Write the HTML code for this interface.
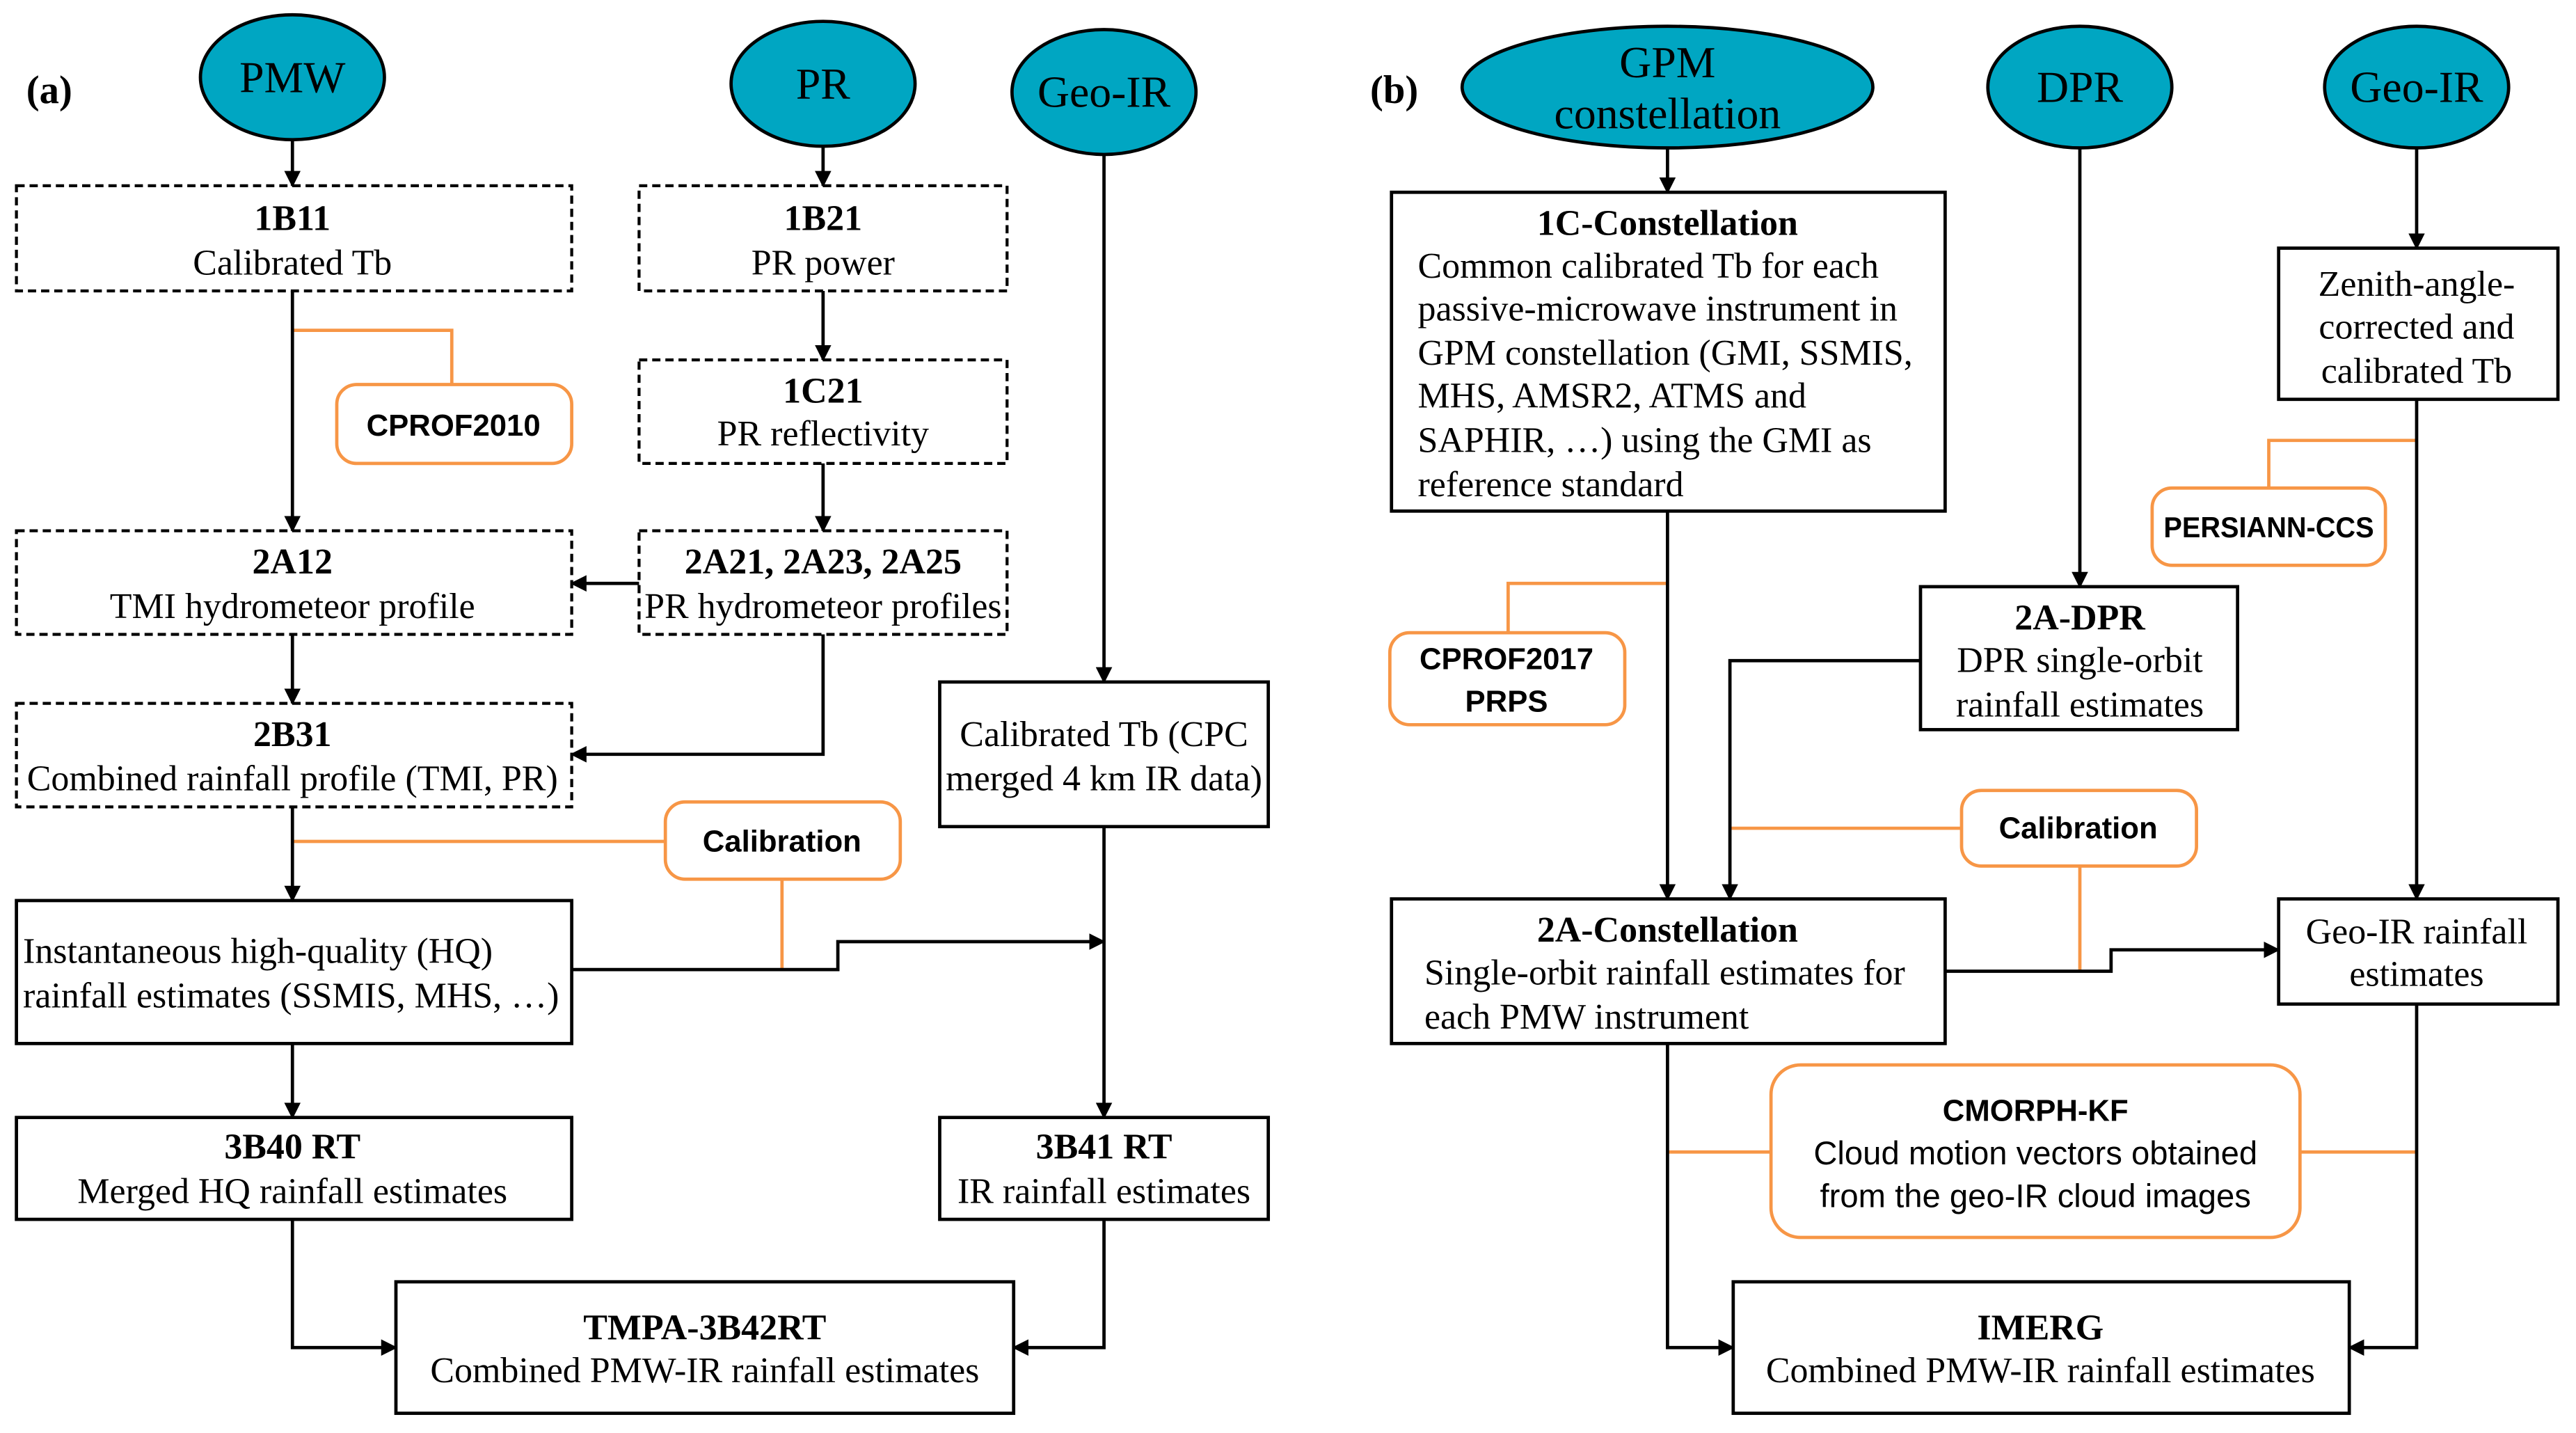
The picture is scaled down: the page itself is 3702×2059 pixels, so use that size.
<!DOCTYPE html>
<html><head><meta charset="utf-8"><style>html,body{margin:0;padding:0;background:#fff}svg{display:block}</style></head><body>
<svg width="3702" height="2059" viewBox="0 0 1568 872" preserveAspectRatio="none" xmlns="http://www.w3.org/2000/svg">
<defs><marker id="a" markerWidth="10" markerHeight="10" refX="9" refY="5" orient="auto" markerUnits="userSpaceOnUse"><path d="M0,0 L10,5 L0,10 z" fill="#000"/></marker></defs>
<rect width="1568" height="872" fill="#fff"/>
<g font-family="Liberation Serif, serif" font-size="22" fill="#000" dominant-baseline="central">
<text x="16" y="55" font-weight="bold" font-size="24">(a)</text>
<text x="834" y="55" font-weight="bold" font-size="24">(b)</text>
<g fill="#00A6C2" stroke="#000" stroke-width="2">
<ellipse cx="178" cy="47" rx="56" ry="38"/><ellipse cx="501" cy="51" rx="56" ry="38"/><ellipse cx="672" cy="56" rx="56" ry="38"/>
<ellipse cx="1015" cy="53" rx="125" ry="37"/><ellipse cx="1266" cy="53" rx="56" ry="37"/><ellipse cx="1471" cy="53" rx="56" ry="37"/>
</g>
<g text-anchor="middle" font-size="27">
<text x="178" y="47">PMW</text><text x="501" y="51">PR</text><text x="672" y="56">Geo-IR</text>
<text x="1015" y="38">GPM</text><text x="1015" y="69">constellation</text><text x="1266" y="53">DPR</text><text x="1471" y="53">Geo-IR</text>
</g>
<g fill="none" stroke="#000" stroke-width="1.8" stroke-dasharray="5,3">
<rect x="10" y="113" width="338" height="64"/><rect x="389" y="113" width="224" height="64"/>
<rect x="389" y="219" width="224" height="63"/><rect x="10" y="323" width="338" height="63"/>
<rect x="389" y="323" width="224" height="63"/><rect x="10" y="428" width="338" height="63"/>
</g>
<g fill="none" stroke="#000" stroke-width="2">
<rect x="572" y="415" width="200" height="88"/><rect x="10" y="548" width="338" height="87"/>
<rect x="10" y="680" width="338" height="62"/><rect x="572" y="680" width="200" height="62"/>
<rect x="241" y="780" width="376" height="80"/>
<rect x="847" y="117" width="337" height="194"/><rect x="1387" y="151" width="170" height="92"/>
<rect x="1169" y="357" width="193" height="87"/><rect x="847" y="547" width="337" height="88"/>
<rect x="1387" y="547" width="170" height="64"/><rect x="1055" y="780" width="375" height="80"/>
</g>
<g fill="#fff" stroke="#F79646" stroke-width="2">
<rect x="205" y="234" width="143" height="48" rx="12"/><rect x="405" y="488" width="143" height="47" rx="12"/>
<rect x="1310" y="297" width="142" height="47" rx="12"/><rect x="846" y="385" width="143" height="56" rx="12"/>
<rect x="1194" y="481" width="143" height="46" rx="12"/><rect x="1078" y="648" width="322" height="105" rx="18"/>
</g>
<g fill="none" stroke="#F79646" stroke-width="2">
<path d="M178,201 H275 V234"/><path d="M178,512 H405"/><path d="M476,535 V590"/>
<path d="M1471,268 H1381 V297"/><path d="M1015,355 H918 V385"/><path d="M1053,504 H1194"/><path d="M1266,527 V591"/>
<path d="M1015,701 H1078"/><path d="M1400,701 H1471"/>
</g>
<g fill="none" stroke="#000" stroke-width="2" marker-end="url(#a)">
<path d="M178,85 V113"/><path d="M501,89 V113"/><path d="M501,177 V219"/><path d="M501,282 V323"/>
<path d="M178,177 V323"/><path d="M389,355 H348"/><path d="M178,386 V428"/><path d="M501,386 V459 H348"/>
<path d="M672,94 V415"/><path d="M178,491 V548"/><path d="M348,590 H510 V573 H672"/><path d="M672,503 V680"/>
<path d="M178,635 V680"/><path d="M178,742 V820 H241"/><path d="M672,742 V820 H617"/>
<path d="M1015,90 V117"/><path d="M1471,90 V151"/><path d="M1266,90 V357"/><path d="M1015,311 V547"/>
<path d="M1169,402 H1053 V547"/><path d="M1184,591 H1285 V578 H1387"/><path d="M1471,243 V547"/>
<path d="M1015,635 V820 H1055"/><path d="M1471,611 V820 H1430"/>
</g>
<g text-anchor="middle">
<text x="178" y="133" font-weight="bold">1B11</text><text x="178" y="160">Calibrated Tb</text>
<text x="501" y="133" font-weight="bold">1B21</text><text x="501" y="160">PR power</text>
<text x="501" y="238" font-weight="bold">1C21</text><text x="501" y="264">PR reflectivity</text>
<text x="178" y="342" font-weight="bold">2A12</text><text x="178" y="369">TMI hydrometeor profile</text>
<text x="501" y="342" font-weight="bold">2A21, 2A23, 2A25</text><text x="501" y="369">PR hydrometeor profiles</text>
<text x="178" y="447" font-weight="bold">2B31</text><text x="178" y="474">Combined rainfall profile (TMI, PR)</text>
<text x="672" y="447">Calibrated Tb (CPC</text><text x="672" y="474">merged 4 km IR data)</text>
<text x="178" y="698" font-weight="bold">3B40 RT</text><text x="178" y="725">Merged HQ rainfall estimates</text>
<text x="672" y="698" font-weight="bold">3B41 RT</text><text x="672" y="725">IR rainfall estimates</text>
<text x="429" y="808" font-weight="bold">TMPA-3B42RT</text><text x="429" y="834">Combined PMW-IR rainfall estimates</text>
<text x="1015" y="136" font-weight="bold">1C-Constellation</text>
<text x="1471" y="173">Zenith-angle-</text><text x="1471" y="199">corrected and</text><text x="1471" y="226">calibrated Tb</text>
<text x="1266" y="376" font-weight="bold">2A-DPR</text><text x="1266" y="402">DPR single-orbit</text><text x="1266" y="429">rainfall estimates</text>
<text x="1015" y="566" font-weight="bold">2A-Constellation</text>
<text x="1471" y="567">Geo-IR rainfall</text><text x="1471" y="593">estimates</text>
<text x="1242" y="808" font-weight="bold">IMERG</text><text x="1242" y="834">Combined PMW-IR rainfall estimates</text>
</g>
<g>
<text x="14" y="579">Instantaneous high-quality (HQ)</text><text x="14" y="606">rainfall estimates (SSMIS, MHS, …)</text>
<text x="863" y="162">Common calibrated Tb for each</text>
<text x="863" y="188">passive-microwave instrument in</text>
<text x="863" y="215">GPM constellation (GMI, SSMIS,</text>
<text x="863" y="241">MHS, AMSR2, ATMS and</text>
<text x="863" y="268">SAPHIR, …) using the GMI as</text>
<text x="863" y="295">reference standard</text>
<text x="867" y="592">Single-orbit rainfall estimates for</text><text x="867" y="619">each PMW instrument</text>
</g>
<g font-family="Liberation Sans, sans-serif" font-size="18.5" text-anchor="middle">
<text x="276" y="259" font-weight="bold">CPROF2010</text>
<text x="476" y="512" font-weight="bold">Calibration</text>
<text x="1381" y="321" font-weight="bold" font-size="17.5" textLength="128" lengthAdjust="spacingAndGlyphs">PERSIANN-CCS</text>
<text x="917" y="401" font-weight="bold">CPROF2017</text><text x="917" y="427" font-weight="bold">PRPS</text>
<text x="1265" y="504" font-weight="bold">Calibration</text>
<text x="1239" y="676" font-weight="bold">CMORPH-KF</text>
<text x="1239" y="702" font-size="20">Cloud motion vectors obtained</text><text x="1239" y="728" font-size="20">from the geo-IR cloud images</text>
</g>
</g>
</svg>
</body></html>
